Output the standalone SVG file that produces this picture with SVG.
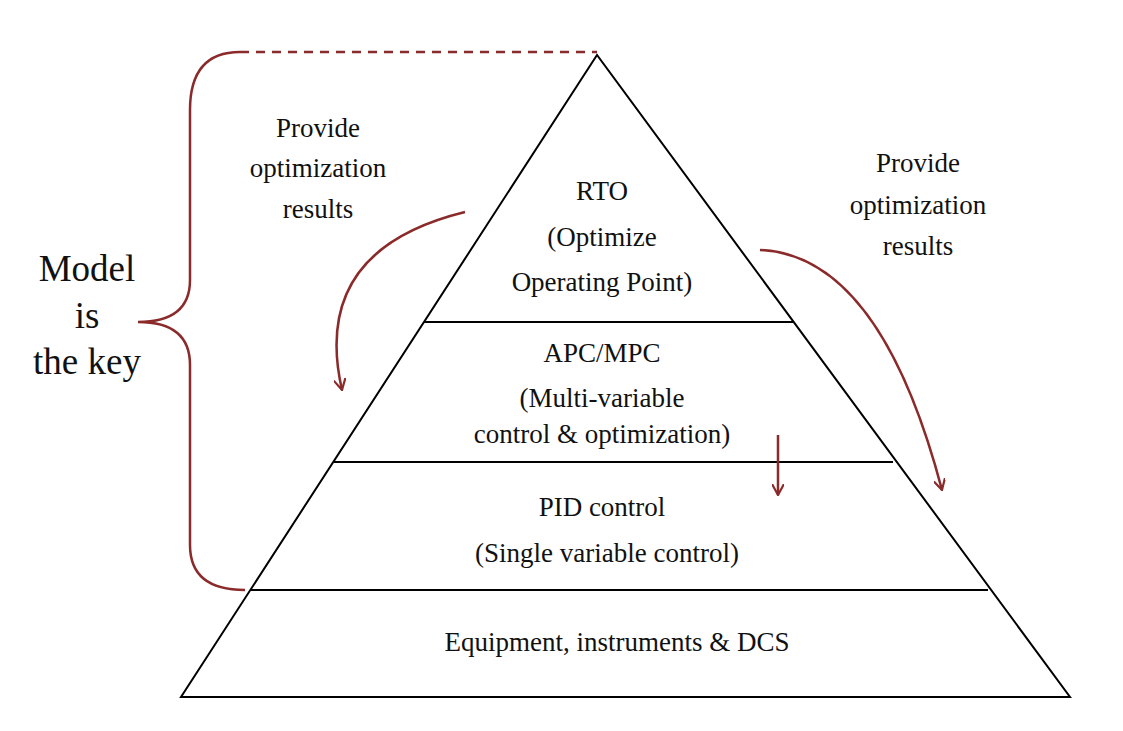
<svg xmlns="http://www.w3.org/2000/svg" width="1123" height="731" viewBox="0 0 1123 731">
<style>
.t{font-family:"Liberation Serif","Times New Roman","DejaVu Serif",serif;font-size:27px;fill:#111;text-anchor:middle}
.m{font-family:"Liberation Serif","Times New Roman","DejaVu Serif",serif;font-size:37px;fill:#111;text-anchor:middle}
.ln{stroke:#000;stroke-width:2;fill:none}
.r{stroke:#8b2a2a;stroke-width:2.5;fill:none}
</style>
<defs>
<marker id="ah" viewBox="0 0 12 12" refX="11" refY="6" markerWidth="12" markerHeight="12" markerUnits="userSpaceOnUse" orient="auto">
<path d="M0,0 L11,6 L0,12" fill="none" stroke="#8b2a2a" stroke-width="2.2"/>
</marker>
</defs>
<rect width="1123" height="731" fill="#fff"/>
<g id="pyramid">
<polygon class="ln" points="597,55 181,697 1070,697"/>
<line class="ln" x1="424" y1="322" x2="794" y2="322"/>
<line class="ln" x1="334" y1="462" x2="893" y2="462"/>
<line class="ln" x1="251" y1="590" x2="988" y2="590"/>
</g>
<g id="rto"><text class="t" x="602" y="200">RTO</text><text class="t" x="602" y="246">(Optimize</text><text class="t" x="602" y="291">Operating Point)</text></g>
<g id="apc"><text class="t" x="602" y="362">APC/MPC</text><text class="t" x="602" y="407">(Multi-variable</text><text class="t" x="602" y="443">control &amp; optimization)</text></g>
<g id="pid"><text class="t" x="602" y="516">PID control</text><text class="t" x="607" y="562">(Single variable control)</text></g>
<g id="equip"><text class="t" x="617" y="651">Equipment, instruments &amp; DCS</text></g>
<g id="labelL"><text class="t" x="318" y="137">Provide</text><text class="t" x="318" y="177">optimization</text><text class="t" x="318" y="218">results</text></g>
<g id="labelR"><text class="t" x="918" y="172">Provide</text><text class="t" x="918" y="214">optimization</text><text class="t" x="918" y="255">results</text></g>
<g id="model"><text class="m" x="87" y="281">Model</text><text class="m" x="87" y="328">is</text><text class="m" x="87" y="374">the key</text></g>
<g id="connectors">
<path class="r" stroke-dasharray="9,7" d="M240,52 H597"/>
<path class="r" d="M240,52 Q190,52 190,110 V280 Q190,322 138,322 Q190,322 190,365 V545 Q190,590 245,590"/>
<path class="r" marker-end="url(#ah)" d="M465,212 Q310,250 342,390"/>
<path class="r" marker-end="url(#ah)" d="M760,250 Q880,255 942,490"/>
<path class="r" marker-end="url(#ah)" d="M778,435 V495"/>
</g>
</svg>
